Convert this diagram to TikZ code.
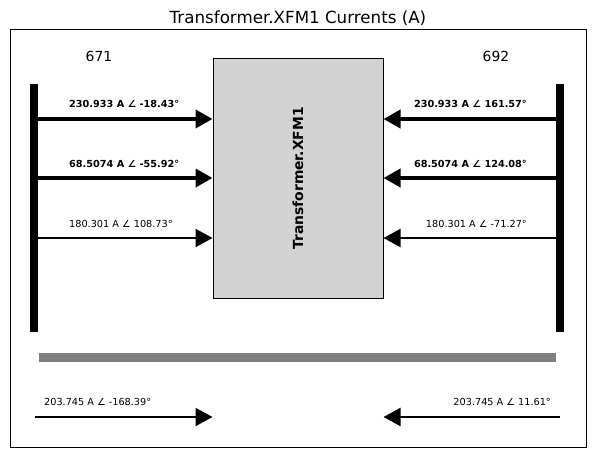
\documentclass[tikz,border=0pt]{standalone}
\usepackage{fontspec}
\setmainfont{DejaVu Sans}
\usetikzlibrary{arrows.meta}
\definecolor{boxgray}{HTML}{D3D3D3}
\definecolor{bargray}{HTML}{808080}
\begin{document}
\begin{tikzpicture}[x=1pt,y=-1pt,
  lbl/.style={font=\fontsize{9.7}{11}\selectfont, inner sep=0pt},
  blbl/.style={lbl, font=\fontsize{9.7}{11}\selectfont\bfseries},
  big/.style={font=\fontsize{13.9}{16}\selectfont, inner sep=0pt},
  tip/.style={-{Triangle[length=17pt,width=18pt]}},
  thick4/.style={tip, line width=4pt},
  thin2/.style={tip, line width=2pt},
  bus/.style={line width=8pt}]
\useasboundingbox (0,0) rectangle (596,457);
\draw[line width=0.8pt] (10,29) rectangle (586,447);
\node[font=\fontsize{16.7}{19}\selectfont, inner sep=0pt] (title) at (298,18) {Transformer.XFM1 Currents (A)};
\node[big] (n671) at (99,56) {671};
\node[big] (n692) at (496,56) {692};
\node[draw, fill=boxgray, line width=1pt, minimum width=170pt, minimum height=239pt, inner sep=0pt] (box) at (298,178.5) {};
\node[big, font=\fontsize{13.9}{16}\selectfont\bfseries, rotate=90] (boxlbl) at (box.center) {Transformer.XFM1};
% bus bars
\coordinate (lbt) at (34,84); \coordinate (lbb) at (34,332);
\coordinate (rbt) at (560,84); \coordinate (rbb) at (560,332);
\draw[bus] (lbt) -- (lbb);
\draw[bus] (rbt) -- (rbb);
% left arrows
\coordinate (la1) at (38,119); \coordinate (la2) at (38,178); \coordinate (la3) at (38,238);
\draw[thick4] (la1) -- (la1 -| box.west);
\draw[thick4] (la2) -- (la2 -| box.west);
\draw[thin2] (la3) -- (la3 -| box.west);
\node[blbl, anchor=west] (ll1) at (69,104) {230.933 A ∠ -18.43°};
\node[blbl, anchor=west] (ll2) at (69,164) {68.5074 A ∠ -55.92°};
\node[lbl, anchor=west] (ll3) at (69,224) {180.301 A ∠ 108.73°};
% right arrows
\coordinate (ra1) at (556,119); \coordinate (ra2) at (556,178); \coordinate (ra3) at (556,238);
\draw[thick4] (ra1) -- (ra1 -| box.east);
\draw[thick4] (ra2) -- (ra2 -| box.east);
\draw[thin2] (ra3) -- (ra3 -| box.east);
\node[blbl, anchor=east] (rl1) at (527,104) {230.933 A ∠ 161.57°};
\node[blbl, anchor=east] (rl2) at (527,164) {68.5074 A ∠ 124.08°};
\node[lbl, anchor=east] (rl3) at (527,224) {180.301 A ∠ -71.27°};
% gray bar
\coordinate (gl) at (39,357); \coordinate (gr) at (556,357);
\draw[line width=9pt, bargray] (gl) -- (gr);
% bottom arrows
\coordinate (bl) at (35,417); \coordinate (br) at (560,417);
\draw[thin2] (bl) -- (bl -| box.west);
\draw[thin2] (br) -- (br -| box.east);
\node[lbl, anchor=west] (bll) at (44,402) {203.745 A ∠ -168.39°};
\node[lbl, anchor=east] (brl) at (551,402) {203.745 A ∠ 11.61°};
\end{tikzpicture}
\end{document}
